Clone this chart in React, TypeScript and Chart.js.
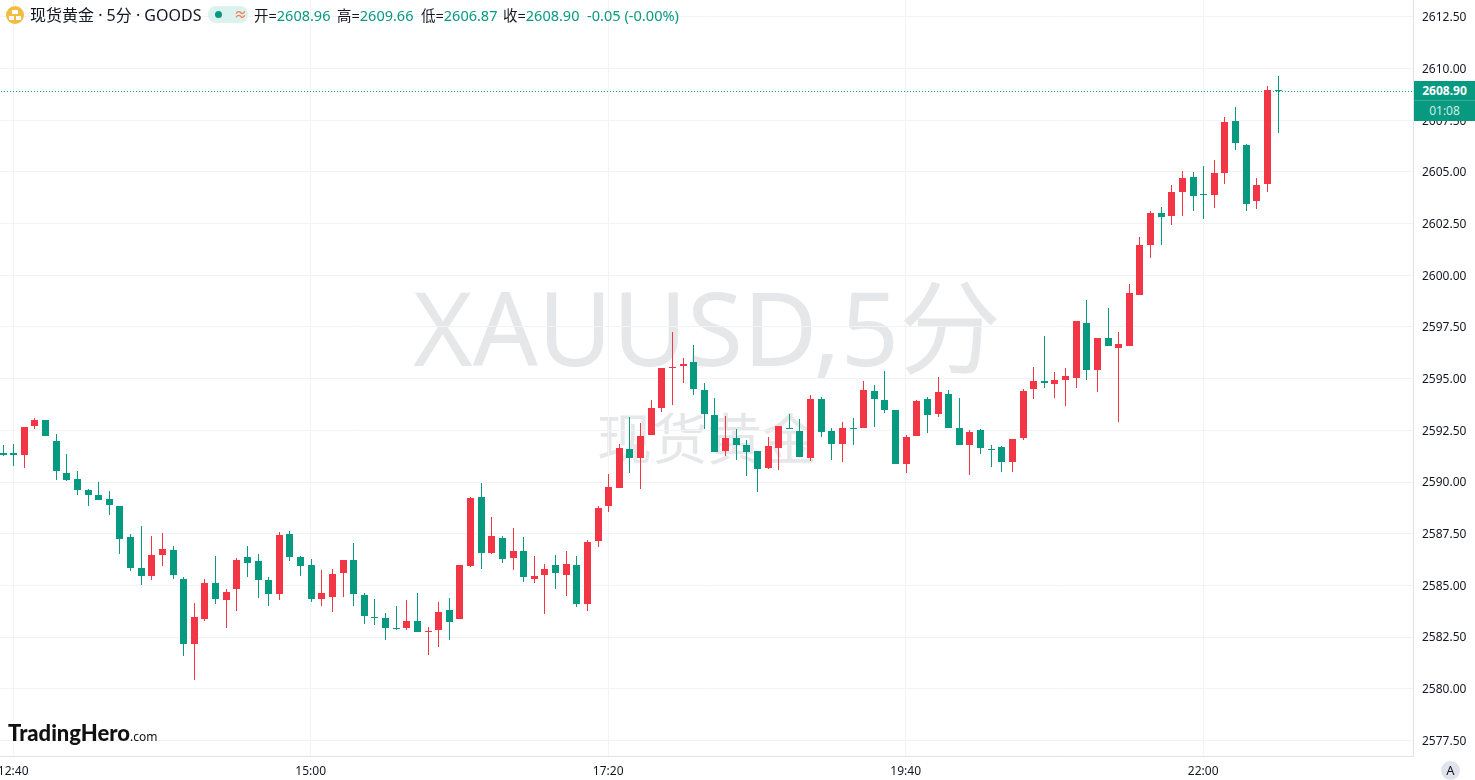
import React, { useEffect, useRef } from "react";
import { Chart, registerables } from "chart.js";

Chart.register(...registerables);

const opens = [2591.41,2591.41,2591.31,2592.71,2593.00,2591.99,2590.44,2590.15,2589.62,2589.37,2589.18,2588.84,2587.34,2585.84,2585.45,2586.47,2586.71,2585.31,2582.16,2583.37,2585.11,2584.29,2584.82,2586.37,2586.18,2585.26,2584.58,2587.49,2586.37,2585.99,2584.34,2584.44,2585.60,2586.23,2584.53,2583.47,2583.42,2582.94,2582.94,2583.27,2582.74,2582.84,2583.81,2583.37,2585.94,2589.28,2586.56,2587.29,2586.32,2586.66,2585.31,2585.50,2585.99,2585.50,2585.99,2584.10,2587.15,2588.84,2589.71,2591.60,2591.16,2592.28,2593.58,2595.52,2595.62,2595.81,2594.45,2593.24,2591.50,2592.13,2591.79,2591.50,2590.68,2591.65,2592.62,2592.47,2591.16,2594.02,2592.47,2591.84,2592.62,2592.62,2594.40,2593.97,2593.48,2590.87,2592.23,2594.02,2593.29,2594.26,2592.62,2591.79,2592.52,2591.60,2591.70,2590.97,2592.13,2594.50,2594.89,2594.75,2594.94,2595.04,2597.70,2595.42,2596.97,2596.49,2596.58,2599.04,2601.46,2603.01,2602.87,2604.03,2604.75,2603.93,2603.88,2604.95,2607.47,2606.30,2603.59,2604.42,2608.96];
const highs = [2591.79,2591.84,2592.66,2593.10,2593.00,2592.33,2591.36,2590.54,2589.66,2590.00,2589.57,2588.84,2587.49,2587.87,2587.39,2587.53,2586.90,2585.40,2584.14,2585.31,2586.42,2584.82,2586.32,2586.90,2586.52,2585.40,2587.58,2587.63,2586.42,2586.28,2585.74,2585.79,2586.23,2587.05,2584.63,2584.34,2583.66,2584.00,2584.29,2584.63,2582.98,2584.19,2584.39,2585.99,2589.28,2589.95,2588.31,2587.39,2587.78,2587.34,2586.42,2586.03,2586.47,2586.66,2586.42,2587.19,2588.84,2590.39,2591.84,2593.15,2592.86,2593.97,2595.52,2597.26,2596.00,2596.63,2594.79,2594.07,2593.20,2592.57,2592.03,2591.50,2592.18,2592.71,2593.29,2593.05,2594.21,2594.11,2592.62,2592.91,2593.10,2594.89,2594.70,2595.38,2593.48,2592.28,2593.97,2594.11,2595.08,2594.46,2594.07,2592.52,2592.57,2591.79,2591.74,2592.08,2594.50,2595.57,2597.07,2595.33,2595.52,2597.79,2598.81,2596.97,2598.42,2597.26,2599.58,2601.85,2603.11,2603.30,2604.37,2605.05,2605.00,2605.29,2605.58,2607.66,2608.14,2606.35,2604.71,2609.16,2609.66];
const lows = [2591.26,2590.78,2590.68,2592.57,2592.23,2590.10,2590.05,2589.37,2588.84,2589.13,2588.40,2586.52,2585.70,2585.02,2585.26,2585.94,2585.31,2581.58,2580.42,2583.27,2584.10,2582.94,2583.76,2585.40,2584.39,2584.00,2584.29,2586.18,2585.45,2584.19,2584.00,2583.71,2584.44,2584.00,2583.13,2583.08,2582.35,2582.84,2582.84,2582.74,2581.63,2582.02,2582.35,2583.37,2585.89,2585.79,2586.52,2586.08,2585.74,2585.16,2585.11,2583.61,2584.82,2584.48,2583.95,2583.76,2586.86,2588.55,2589.71,2590.44,2589.66,2592.28,2593.39,2593.73,2594.79,2594.21,2592.57,2591.45,2591.26,2591.07,2590.29,2589.52,2590.63,2590.58,2592.57,2591.21,2591.02,2592.18,2591.07,2590.97,2591.79,2592.62,2592.66,2593.34,2590.87,2590.44,2592.23,2592.37,2593.15,2592.62,2591.79,2590.34,2591.36,2590.73,2590.49,2590.49,2592.03,2594.02,2594.55,2594.07,2593.68,2594.55,2594.94,2594.36,2596.58,2592.91,2596.58,2599.04,2600.83,2601.46,2602.43,2602.87,2603.11,2602.72,2603.25,2604.42,2606.06,2603.11,2603.21,2604.03,2606.87];
const closes = [2591.31,2591.31,2592.66,2593.00,2592.23,2590.54,2590.10,2589.62,2589.37,2589.13,2588.89,2587.24,2585.84,2585.45,2586.47,2586.76,2585.50,2582.16,2583.47,2585.11,2584.34,2584.68,2586.23,2586.08,2585.26,2584.58,2587.44,2586.37,2585.94,2584.34,2584.63,2585.55,2586.23,2584.58,2583.52,2583.42,2582.94,2582.89,2583.27,2582.74,2582.79,2583.71,2583.23,2585.99,2589.23,2586.56,2587.39,2586.28,2586.66,2585.40,2585.45,2585.79,2585.60,2586.03,2584.10,2587.10,2588.74,2589.76,2591.65,2591.16,2592.23,2593.58,2595.52,2595.57,2595.71,2594.50,2593.29,2591.45,2592.13,2591.79,2591.45,2590.63,2591.74,2592.71,2592.57,2591.21,2594.02,2592.42,2591.84,2592.62,2592.57,2594.45,2594.02,2593.48,2590.87,2592.18,2593.92,2593.24,2594.36,2592.62,2591.79,2592.42,2591.65,2591.55,2590.97,2592.08,2594.40,2594.89,2594.79,2594.94,2595.13,2597.79,2595.42,2596.97,2596.58,2596.68,2599.14,2601.46,2603.01,2602.82,2604.03,2604.71,2603.83,2603.88,2604.95,2607.42,2606.40,2603.45,2604.37,2608.96,2608.90];
const timeTickIndex = [0, 28, 56, 84, 112];
const timeTickLabels = ["12:40", "15:00", "17:20", "19:40", "22:00"];
const lastPrice = 2608.9;

const UP = "#f23645";
const DOWN = "#089981";
const GRID = "#f1f3f7";
const AXIS = "#e0e3eb";
const TEXT = "#131722";
const FONT = '"Noto Sans", "Noto Sans CJK SC", sans-serif';

const candleX = opens.map((_, i) => i - 1);
const candleColors = opens.map((o, i) => (closes[i] > o ? UP : DOWN));

const snapPlugin = {
  id: "snapCandles",
  afterDatasetsUpdate(chart: any) {
    chart.data.datasets.forEach((_: any, d: number) => {
      const meta = chart.getDatasetMeta(d);
      if (meta.type === "bar") {
        meta.data.forEach((el: any) => {
          el.x = Math.round(el.x) + 0.5;
          el.y = Math.round(el.y);
          el.base = Math.round(el.base);
          if (el.base === el.y) el.base = el.y + 1;
        });
      } else {
        meta.data.forEach((el: any) => {
          el.y = Math.floor(el.y) + 0.5;
        });
      }
    });
  },
};

const abs = (left: number, top: number, extra: React.CSSProperties = {}): React.CSSProperties => ({
  position: "absolute",
  left,
  top,
  whiteSpace: "nowrap",
  zIndex: 2,
  ...extra,
});

function Ohlc({ left, name, value }: { left: number; name: string; value: string }) {
  return (
    <span style={abs(left, 6, { fontSize: 14.5, lineHeight: "19px", color: TEXT })}>
      {name}=<span style={{ color: DOWN }}>{value}</span>
    </span>
  );
}

export default function App() {
  const ref = useRef<HTMLCanvasElement>(null);
  useEffect(() => {
    document.body.style.margin = "0";
    document.body.style.background = "#fff";
    const chart = new Chart(ref.current as HTMLCanvasElement, {
      type: "bar",
      data: {
        datasets: [
          {
            type: "bar",
            data: candleX.map((x, i) => ({ x, y: [opens[i], closes[i]] })),
            backgroundColor: candleColors,
            grouped: false,
            barPercentage: 1,
            categoryPercentage: 1,
            maxBarThickness: 7,
            inflateAmount: 0,
            borderWidth: 0,
            order: 1,
          },
          {
            type: "bar",
            data: candleX.map((x, i) => ({ x, y: [lows[i], highs[i]] })),
            backgroundColor: candleColors,
            grouped: false,
            barPercentage: 1,
            categoryPercentage: 1,
            maxBarThickness: 1,
            inflateAmount: 0,
            borderWidth: 0,
            order: 2,
          },
          {
            type: "line",
            data: [
              { x: -2, y: lastPrice },
              { x: 132, y: lastPrice },
            ],
            borderColor: DOWN,
            borderWidth: 1,
            borderDash: [1, 2],
            pointRadius: 0,
            order: 3,
          },
        ],
      } as any,
      options: {
        animation: false,
        responsive: false,
        layout: { padding: 0 },
        plugins: { legend: { display: false }, tooltip: { enabled: false } },
        scales: {
          x: {
            type: "linear",
            offset: false,
            min: -1.2424,
            max: 131.75,
            grid: { color: GRID, drawTicks: false, offset: false },
            border: { color: AXIS },
            ticks: {
              padding: 8,
              color: TEXT,
              maxRotation: 0,
              autoSkip: false,
              font: { family: FONT, size: 12 },
              callback: (v: any) => timeTickLabels[timeTickIndex.indexOf(Number(v))] ?? "",
            },
            afterBuildTicks: (s: any) => {
              s.ticks = timeTickIndex.map((value) => ({ value }));
            },
            afterFit: (s: any) => {
              s.height = 24;
              s.paddingLeft = s.paddingRight = s.paddingTop = s.paddingBottom = 0;
            },
          },
          y: {
            type: "linear",
            position: "right",
            min: 2576.745,
            max: 2613.32,
            grid: { color: GRID, drawTicks: false },
            border: { color: AXIS },
            ticks: {
              stepSize: 2.5,
              includeBounds: false,
              padding: 9,
              labelOffset: 1,
              color: TEXT,
              font: { family: FONT, size: 12 },
              callback: (v: any) => Number(v).toFixed(2),
            },
            afterFit: (s: any) => {
              s.width = 62;
              s.paddingLeft = s.paddingRight = s.paddingTop = s.paddingBottom = 0;
            },
          },
        },
      } as any,
      plugins: [snapPlugin],
    });
    return () => chart.destroy();
  }, []);

  return (
    <div style={{ position: "relative", width: 1475, height: 780, overflow: "hidden", fontFamily: FONT, background: "#fff" }}>
      <div style={abs(400, 265, { zIndex: 0, fontSize: 102, lineHeight: "124px", color: "#e6e7e9", width: 614, textAlign: "center" })}>XAUUSD,5分</div>
      <div style={abs(597, 402, { zIndex: 0, fontSize: 55, lineHeight: "66px", color: "#e6e7e9", width: 220, textAlign: "center", fontFamily: '"Noto Sans CJK SC", sans-serif' })}>现货黄金</div>
      <canvas ref={ref} width={1475} height={780} style={{ position: "absolute", left: 0, top: 0, zIndex: 1, display: "block" }} />

      <div style={abs(6, 6, { width: 18, height: 18, borderRadius: 9, background: "#f2bc42" })}>
        <div style={{ position: "absolute", left: 6, top: 4, width: 6, height: 4, background: "#fff" }} />
        <div style={{ position: "absolute", left: 3, top: 10, width: 5, height: 4, background: "#fff" }} />
        <div style={{ position: "absolute", left: 10, top: 10, width: 5, height: 4, background: "#fff" }} />
      </div>
      <span style={abs(30, 5, { fontSize: 16, lineHeight: "20px", color: TEXT })}>现货黄金 · 5分 · GOODS</span>
      <div style={abs(208, 6, { width: 40, height: 17, borderRadius: 8, background: "#dcf2ee" })}>
        <div style={{ position: "absolute", left: 7, top: 5, width: 7, height: 7, borderRadius: 4, background: DOWN }} />
        <span style={{ position: "absolute", left: 26, top: -2, fontSize: 13, fontWeight: 700, color: "#f7825a" }}>≈</span>
      </div>
      <Ohlc left={254} name="开" value="2608.96" />
      <Ohlc left={337} name="高" value="2609.66" />
      <Ohlc left={421} name="低" value="2606.87" />
      <Ohlc left={503} name="收" value="2608.90" />
      <span style={abs(587, 6, { fontSize: 14.6, lineHeight: "19px", color: DOWN })}>-0.05 (-0.00%)</span>

      <div style={abs(1414, 81, { width: 61, height: 40, background: DOWN, textAlign: "center", fontSize: 12 })}>
        <div style={{ height: 20, lineHeight: "20px", color: "#fff", fontWeight: 700, borderBottom: "1px solid #3aad99", boxSizing: "border-box" }}>2608.90</div>
        <div style={{ height: 20, lineHeight: "20px", color: "#cdebe6" }}>01:08</div>
      </div>

      <div style={abs(8, 717, { fontFamily: "Lato, Inter, sans-serif", fontWeight: 900, fontSize: 22, lineHeight: "32px", color: "#111" })}>
        TradingHero<span style={{ fontFamily: FONT, fontWeight: 400, fontSize: 12 }}>.com</span>
      </div>

      <div style={abs(1441, 761, { width: 19, height: 19, borderRadius: 10, background: AXIS, textAlign: "center", fontSize: 13, lineHeight: "19px", color: TEXT })}>A</div>
    </div>
  );
}
